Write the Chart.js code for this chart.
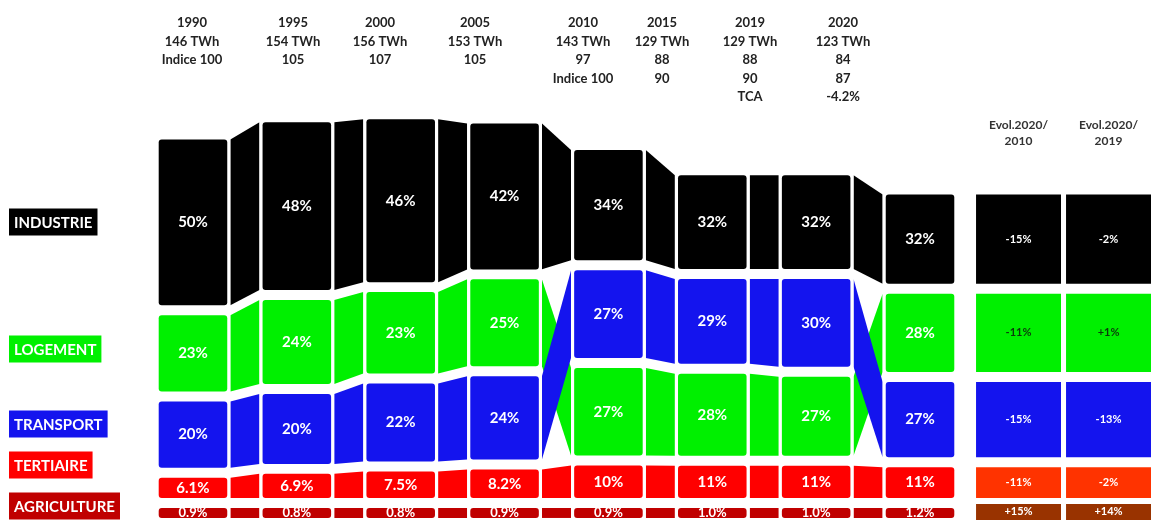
<!DOCTYPE html>
<html>
<head>
<meta charset="utf-8">
<script src="https://cdn.jsdelivr.net/npm/chart.js@4.4.1/dist/chart.umd.min.js"></script>
<style>
  html, body { margin: 0; padding: 0; background: #fff; }
</style>
</head>
<body>
<canvas id="chart" width="1151" height="520"></canvas>
<script>
// data
const years = ['1990', '1995', '2000', '2005', '2010', '2015', '2019', '2020'];
const totalTWh = [146, 154, 156, 153, 143, 129, 129, 123];
const indice1990 = ['Indice 100', '105', '107', '105', '97', '88', '88', '84'];
const indice2010 = [null, null, null, null, 'Indice 100', '90', '90', '87'];
const tcaRow = [null, null, null, null, null, null, 'TCA', '-4.2%'];

const industrie = [50, 48, 46, 42, 34, 32, 32, 32];
const logement = [23, 24, 23, 25, 27, 28, 27, 28];
const transport = [20, 20, 22, 24, 27, 29, 30, 27];
const tertiaire = [6.1, 6.9, 7.5, 8.2, 10, 11, 11, 11];
const agriculture = [0.9, 0.8, 0.8, 0.9, 0.9, 1.0, 1.0, 1.2];

const evol2010 = ['-15%', '-11%', '-15%', '-11%', '+15%'];
const evol2019 = ['-2%', '+1%', '-13%', '-2%', '+14%'];

const CATS = ['industrie', 'logement', 'transport', 'tertiaire', 'agriculture'];
const shares = { industrie, logement, transport, tertiaire, agriculture };
const catLabels = ['INDUSTRIE', 'LOGEMENT', 'TRANSPORT', 'TERTIAIRE', 'AGRICULTURE'];

// styles / layout
const COLORS = {
    industrie: '#000000', logement: '#00f000', transport: '#1414ee',
    tertiaire: '#ff0000', agriculture: '#c00000'
};
const EVOL_COLORS = {
    industrie: '#000000', logement: '#00f000', transport: '#1414ee',
    tertiaire: '#ff3300', agriculture: '#993300'
};
const FONT = 'Lato, "Open Sans", sans-serif';
const GAP = 4.4;        // white gap between bands, in TWh
const AGR_MIN = 4.4;    // agriculture is drawn at a minimum thickness
const CX = 0.36;        // connector start, from the bar centre
const Y_MIN = -9.7, Y_MAX = 219.4;
const HEADER_X = [192, 293, 380, 475, 583, 662, 750, 843];
const LABEL_Y = [222, 349, 424, 465, 506];

function stackYear(i) {
    const twh = k => shares[k][i] / 100 * totalTWh[i];
    const pos = {};
    pos.tertiaire = [0, twh('tertiaire')];
    let base = pos.tertiaire[1] + GAP;
    // biggest on top, transport kept above logement on a tie
    const order = ['industrie', 'transport', 'logement'].sort((a, b) => twh(b) - twh(a));
    order.reverse().forEach(k => {
        pos[k] = [base, base + twh(k)];
        base = pos[k][1] + GAP;
    });
    pos.agriculture = [-GAP, -GAP - Math.max(twh('agriculture'), AGR_MIN)];
    return pos;
}

const pos = years.map((_, i) => stackYear(i));
const last = years.length - 1;

let datasets = [];

// year bars
CATS.forEach(k => {
    datasets.push({
        type: 'bar',
        xAxisID: 'x',
        data: years.map((_, i) => ({ x: i, y: pos[i][k] })),
        backgroundColor: COLORS[k],
        grouped: false,
        barPercentage: 0.66,
        categoryPercentage: 1,
        borderRadius: 3,
        borderSkipped: false
    });
});

// evolution cells, lined up on the 2020 bands
function evolCell(k) {
    return k === 'agriculture' ? [-GAP + 1.8, Y_MIN] : pos[last][k];
}
CATS.forEach(k => {
    const cell = evolCell(k);
    datasets.push({
        type: 'bar',
        xAxisID: 'xe',
        data: [{ x: 0, y: cell }, { x: 1, y: cell }],
        backgroundColor: EVOL_COLORS[k],
        grouped: false,
        barPercentage: 0.944,
        categoryPercentage: 1
    });
});

// connectors between bars (transport listed first so it sits over logement)
['transport', 'logement', 'industrie', 'tertiaire', 'agriculture'].forEach(k => {
    for (let i = 0; i < last; i++) {
        const a = pos[i][k], b = pos[i + 1][k];
        datasets.push({
            type: 'line',
            xAxisID: 'x',
            data: [{ x: i + CX, y: Math.max(...a) }, { x: i + 1 - CX, y: Math.max(...b) }],
            fill: '+1',
            backgroundColor: COLORS[k],
            borderColor: 'rgba(0,0,0,0)',
            borderWidth: 0,
            pointRadius: 0,
            tension: 0
        });
        datasets.push({
            type: 'line',
            xAxisID: 'x',
            data: [{ x: i + CX, y: Math.min(...a) }, { x: i + 1 - CX, y: Math.min(...b) }],
            fill: false,
            borderColor: 'rgba(0,0,0,0)',
            borderWidth: 0,
            pointRadius: 0,
            tension: 0
        });
    }
});

function fmt(v) {
    return (v < 10 ? v.toFixed(1) : String(v)) + '%';
}

const textPlugin = {
    id: 'texts',
    afterDatasetsDraw(chart) {
        const ctx = chart.ctx;
        const x = chart.scales.x, xe = chart.scales.xe, y = chart.scales.y;
        ctx.save();
        ctx.textAlign = 'center';
        ctx.textBaseline = 'middle';

        // headers above the columns
        ctx.fillStyle = '#222';
        ctx.font = 'bold 13px ' + FONT;
        years.forEach((yr, i) => {
            const lines = [yr, totalTWh[i] + ' TWh', indice1990[i], indice2010[i], tcaRow[i]].filter(s => s);
            lines.forEach((s, j) => ctx.fillText(s, HEADER_X[i], 23 + j * 18.5));
        });

        // shares inside the bars
        ctx.fillStyle = '#fff';
        years.forEach((_, i) => {
            CATS.forEach(k => {
                const p = pos[i][k];
                ctx.font = (k === 'agriculture' ? 'bold 13px ' : 'bold 15px ') + FONT;
                ctx.fillText(fmt(shares[k][i]), x.getPixelForValue(i), y.getPixelForValue((p[0] + p[1]) / 2));
            });
        });

        // evolution headers and cells
        ctx.fillStyle = '#333';
        ctx.font = 'bold 12px ' + FONT;
        ['2010', '2019'].forEach((s, j) => {
            ctx.fillText('Evol.2020/', xe.getPixelForValue(j), 125);
            ctx.fillText(s, xe.getPixelForValue(j), 141);
        });
        ctx.font = 'bold 11px ' + FONT;
        CATS.forEach((k, c) => {
            const p = evolCell(k);
            const cy = y.getPixelForValue((p[0] + p[1]) / 2);
            ctx.fillStyle = k === 'logement' ? '#0b3b0b' : '#fff';
            ctx.fillText(evol2010[c], xe.getPixelForValue(0), cy);
            ctx.fillText(evol2019[c], xe.getPixelForValue(1), cy);
        });

        // category tags on the left
        ctx.textAlign = 'left';
        ctx.font = 'bold 15px ' + FONT;
        catLabels.forEach((s, c) => {
            const w = ctx.measureText(s).width + 10;
            ctx.fillStyle = COLORS[CATS[c]];
            ctx.fillRect(9, LABEL_Y[c] - 13.5, w, 27);
            ctx.fillStyle = '#fff';
            ctx.fillText(s, 14, LABEL_Y[c] + 1);
        });
        ctx.restore();
    }
};

new Chart(document.getElementById('chart'), {
    type: 'bar',
    data: { datasets: datasets },
    options: {
        responsive: false,
        animation: false,
        events: [],
        layout: { padding: 0 },
        plugins: {
            legend: { display: false },
            tooltip: { enabled: false },
            filler: { propagate: false }
        },
        scales: {
            x: { type: 'linear', display: false, min: -1.858, max: 9.224, offset: false },
            xe: { type: 'linear', axis: 'x', display: false, min: -11.317, max: 1.472, offset: false },
            y: { type: 'linear', display: false, min: Y_MIN, max: Y_MAX }
        }
    },
    plugins: [textPlugin]
});
</script>
</body>
</html>
